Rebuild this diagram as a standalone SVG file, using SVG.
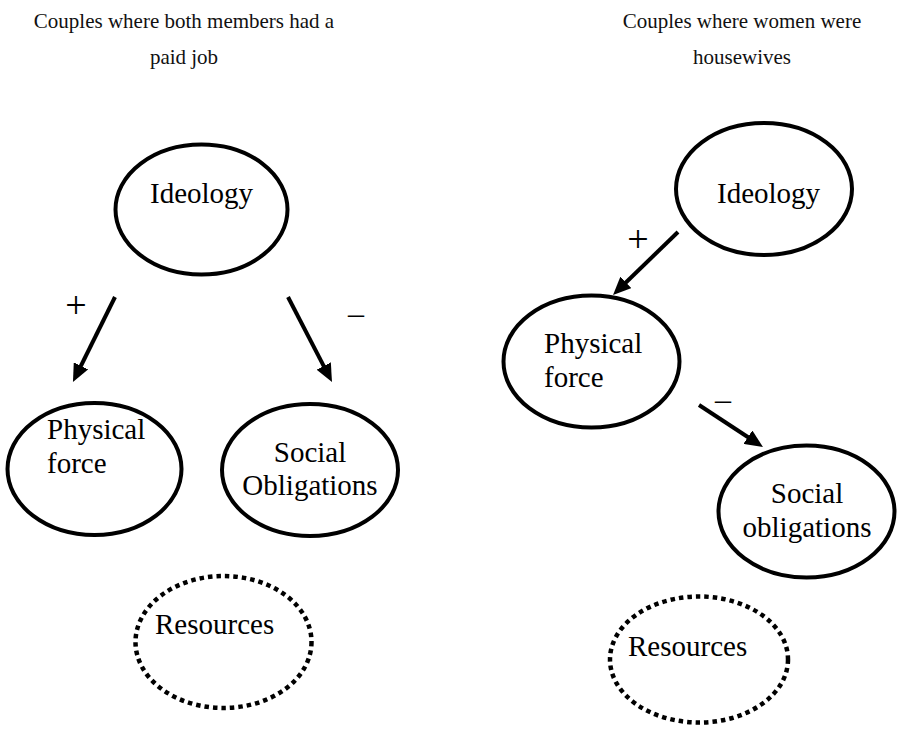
<svg xmlns="http://www.w3.org/2000/svg" width="907" height="732" viewBox="0 0 907 732">
  <style>
    .title { font-family: "Liberation Serif", "Times New Roman", serif; font-size: 21px; fill: #111; text-anchor: middle; }
    .lbl { font-family: "Liberation Serif", "Times New Roman", serif; font-size: 29px; fill: #000; }
    .mid { text-anchor: middle; }
    .sign { font-family: "Liberation Serif", "Times New Roman", serif; font-size: 38px; fill: #000; text-anchor: middle; }
    .dash { font-size: 32px; }
    .node { fill: #fff; stroke: #000; stroke-width: 4; }
    .dotted { fill: none; stroke: #000; stroke-width: 4.5; stroke-dasharray: 4.5 4; }
    .edge { fill: none; stroke: #000; stroke-width: 4; marker-end: url(#head); }
  </style>
  <defs>
    <marker id="head" viewBox="0 0 18 16" refX="8" refY="8" markerWidth="18" markerHeight="16" markerUnits="userSpaceOnUse" orient="auto">
      <path d="M0,0 L18,8 L0,16 z" fill="#000"/>
    </marker>
  </defs>
  <rect width="907" height="732" fill="#fff"/>

  <!-- headings -->
  <text class="title" x="184" y="28">Couples where both members had a</text>
  <text class="title" x="184" y="64">paid job</text>
  <text class="title" x="742" y="28">Couples where women were</text>
  <text class="title" x="742" y="64">housewives</text>

  <!-- left panel: dual earners -->
  <g id="left-ideology">
    <ellipse class="node" cx="201.5" cy="209.5" rx="86" ry="65"/>
    <text class="lbl" x="150" y="203">Ideology</text>
  </g>
  <g id="left-physical-force">
    <ellipse class="node" cx="94.5" cy="469" rx="87" ry="66"/>
    <text class="lbl" x="47" y="439">Physical</text>
    <text class="lbl" x="47" y="473">force</text>
  </g>
  <g id="left-social-obligations">
    <ellipse class="node" cx="310" cy="470" rx="88" ry="66"/>
    <text class="lbl mid" x="310" y="462">Social</text>
    <text class="lbl mid" x="310" y="495">Obligations</text>
  </g>
  <g id="left-resources">
    <ellipse class="dotted" cx="223.5" cy="642" rx="88" ry="66"/>
    <text class="lbl" x="155" y="634">Resources</text>
  </g>

  <!-- right panel: housewives -->
  <g id="right-ideology">
    <ellipse class="node" cx="764" cy="189" rx="88" ry="66"/>
    <text class="lbl" x="717" y="203">Ideology</text>
  </g>
  <g id="right-physical-force">
    <ellipse class="node" cx="591.5" cy="361.5" rx="88" ry="66"/>
    <text class="lbl" x="544" y="353">Physical</text>
    <text class="lbl" x="544" y="387">force</text>
  </g>
  <g id="right-social-obligations">
    <ellipse class="node" cx="806.5" cy="511.5" rx="88" ry="66"/>
    <text class="lbl mid" x="807" y="503">Social</text>
    <text class="lbl mid" x="807" y="537">obligations</text>
  </g>
  <g id="right-resources">
    <ellipse class="dotted" cx="699" cy="659.5" rx="89" ry="63"/>
    <text class="lbl" x="628" y="656">Resources</text>
  </g>

  <!-- connectors -->
  <g id="connectors">
    <path class="edge" d="M115,297 L77.4,373"/>
    <path class="edge" d="M288,297 L327.4,373.1"/>
    <path class="edge" d="M678,232 L620.2,288"/>
    <path class="edge" d="M699,405 L754.6,441.5"/>
    <text class="sign" x="76" y="318">+</text>
    <text class="sign dash" x="356" y="323.5">–</text>
    <text class="sign" x="638" y="252">+</text>
    <text class="sign dash" x="723" y="409.5">–</text>
  </g>
</svg>
